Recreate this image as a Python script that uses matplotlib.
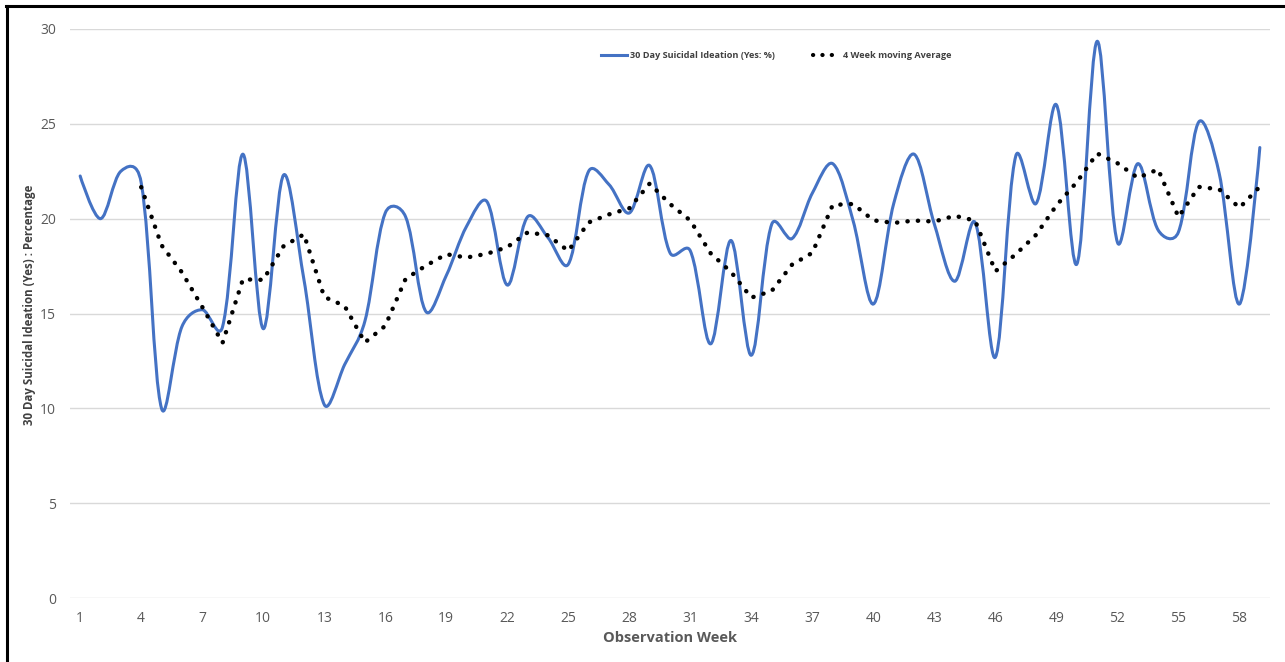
import numpy as np
import pandas as pd
import matplotlib
matplotlib.use("Agg")
import matplotlib.pyplot as plt
from matplotlib.path import Path
from matplotlib.patches import PathPatch
from matplotlib.lines import Line2D

weeks = list(range(1, 60))
ideation = [22.25, 20.0, 22.5, 21.9, 10.0, 14.3, 15.2, 14.3, 23.4, 14.2,
            22.3, 16.8, 10.2, 12.3, 14.6, 20.3, 20.1, 15.1, 17.0, 19.6,
            20.9, 16.5, 20.1, 19.0, 17.6, 22.5, 21.8, 20.3, 22.8, 18.2,
            18.3, 13.4, 18.85, 12.8, 19.7, 18.95, 21.35, 22.9, 19.9, 15.5,
            20.8, 23.4, 19.7, 16.7, 19.8, 12.7, 23.3, 20.8, 26.0, 17.6,
            29.35, 18.75, 22.9, 19.4, 19.3, 25.1, 22.4, 15.5, 23.75]
x_ticks = list(range(1, 60, 3))
y_ticks = [0, 5, 10, 15, 20, 25, 30]
label_series = "30 Day Suicidal Ideation (Yes: %)"
label_ma = "4 Week moving Average"
x_label = "Observation Week"
y_label = "30 Day Suicidal Ideation (Yes) : Percentage"

# 4-week trailing moving average (trendline of the series)
moving_avg = pd.Series(ideation, index=weeks).rolling(4).mean()

W, H = 1285, 662
fig = plt.figure(figsize=(W / 100, H / 100), dpi=100)
ax = fig.add_axes([70 / W, 1 - 598 / H, 1200 / W, (598 - 29) / H])
ax.set_xlim(0.5, 59.5)
ax.set_ylim(0, 30)

FONT = "Open Sans"
GRAY = "#595959"
BLUE = "#4472C4"


def smooth_path(xs, ys, tension=1 / 3, alpha=0.5):
    """Smoothed line as cubic Bezier segments (Catmull-Rom blended with
    on-screen segment-length weighting of the control arms)."""
    data = np.column_stack([np.asarray(xs, float), np.asarray(ys, float)])
    px = ax.transData.transform(data)
    n = len(data)
    cin = [None] * n
    cout = [None] * n
    for i in range(n):
        if i == 0 or i == n - 1:
            cin[i] = data[i]
            cout[i] = data[i]
            continue
        d0 = np.hypot(*(px[i] - px[i - 1]))
        d1 = np.hypot(*(px[i + 1] - px[i]))
        tan = data[i + 1] - data[i - 1]
        fa = tension * (alpha * 0.5 + (1 - alpha) * d0 / (d0 + d1))
        fb = tension * (alpha * 0.5 + (1 - alpha) * d1 / (d0 + d1))
        cin[i] = data[i] - fa * tan
        cout[i] = data[i] + fb * tan
    verts = [data[0]]
    codes = [Path.MOVETO]
    for i in range(n - 1):
        verts += [cout[i], cin[i + 1], data[i + 1]]
        codes += [Path.CURVE4] * 3
    return Path(verts, codes)


patch = PathPatch(smooth_path(weeks, ideation), facecolor="none", edgecolor=BLUE,
                  linewidth=2.2, capstyle="round", joinstyle="round", zorder=3)
ax.add_patch(patch)

ma = moving_avg.dropna()
ax.plot(ma.index, ma.values, color="black", linewidth=3.2,
        linestyle=(0, (0.05, 2.3)), dash_capstyle="round", zorder=4)

ax.set_xticks(x_ticks)
ax.set_yticks(y_ticks)
ax.grid(axis="y", color="#d9d9d9", linewidth=1.0)
ax.set_axisbelow(True)
for s in ax.spines.values():
    s.set_visible(False)
ax.tick_params(axis="both", length=0, labelsize=10, labelcolor=GRAY)
ax.tick_params(axis="y", pad=10)
ax.tick_params(axis="x", pad=9)
for lab in ax.get_xticklabels() + ax.get_yticklabels():
    lab.set_fontfamily(FONT)

ax.set_xlabel(x_label, fontfamily=FONT, fontweight="bold", fontsize=10.5,
              color=GRAY, labelpad=4)
ax.set_ylabel(y_label, fontfamily=FONT, fontweight="bold", fontsize=8.3,
              color="#404040", va="center")
ax.yaxis.set_label_coords((30 - 70) / 1200, (598 - 305) / 569)

# legend
h1 = Line2D([], [], color=BLUE, linewidth=2.2)
h2 = Line2D([], [], color="black", linewidth=3.0, linestyle=(0, (0.05, 2.2)),
            dash_capstyle="round")
leg = ax.legend([h1, h2], [label_series, label_ma], loc="center",
                bbox_to_anchor=((776 - 70) / 1200, (598 - 56) / (598 - 29)),
                ncol=2, frameon=False, handlelength=2.9, handletextpad=0.3,
                columnspacing=4.2,
                prop={"family": FONT, "weight": "bold", "size": 6.6})
for t in leg.get_texts():
    t.set_color("#404040")

# outer frame (top and left edges)
fig.add_artist(Line2D([6.5 / W, 6.5 / W], [0, 1 - 6 / H], color="black",
                      linewidth=2.2, transform=fig.transFigure))
fig.add_artist(Line2D([5.5 / W, 1], [1 - 6 / H, 1 - 6 / H], color="black",
                      linewidth=2.2, transform=fig.transFigure))

fig.savefig("out.png", dpi=100)
